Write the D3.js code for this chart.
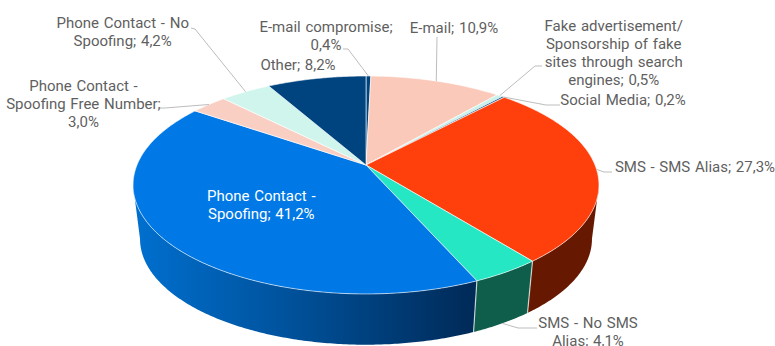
<!DOCTYPE html>
<html>
<head>
<meta charset="utf-8">
<script src="https://cdn.jsdelivr.net/npm/d3@7/dist/d3.min.js"></script>
<style>
html, body { margin: 0; padding: 0; background: #fff; overflow: hidden; }
svg { display: block; }
text { font-family: Roboto, sans-serif; font-size: 15px; word-spacing: 1px; fill: #5f5f5f; text-anchor: middle; }
</style>
</head>
<body>
<svg id="chart" width="775" height="346"></svg>
<script>
// Slices in drawing order, clockwise from twelve o'clock.
const categories = [
  "E-mail compromise", "E-mail", "Fake advertisement/ Sponsorship of fake sites through search engines",
  "Social Media", "SMS - SMS Alias", "SMS - No SMS Alias", "Phone Contact - Spoofing",
  "Phone Contact - Spoofing Free Number", "Phone Contact - No Spoofing", "Other"
];
const shares = [0.4, 10.9, 0.5, 0.2, 27.3, 4.1, 41.2, 3.0, 4.2, 8.2];
const topColors = ["#00447f", "#fbc9b9", "#c9f3ea", "#00447f", "#ff400c", "#26e7c3", "#0078e6", "#f9cfc4", "#d0f5ed", "#00447f"];
const wallColors = ["#002447", "#7a4a3a", "#2a6a5c", "#002447", "#661800", "#0f5e4b", "#0070d0", "#7a4a3a", "#2a6a5c", "#002447"];

// Label text and placement, one entry per slice.
const labelLines = [
  ["E-mail compromise;", "0,4%"], ["E-mail; 10,9%"],
  ["Fake advertisement/", "Sponsorship of fake", "sites through search", "engines; 0,5%"],
  ["Social Media; 0,2%"], ["SMS - SMS Alias; 27,3%"], ["SMS - No SMS", "Alias; 4,1%"],
  ["Phone Contact -", "Spoofing; 41,2%"], ["Phone Contact -", "Spoofing Free Number;", "3,0%"],
  ["Phone Contact - No", "Spoofing; 4,2%"], ["Other; 8,2%"]
];
const labelAnchors = [[326, 31.7], [454, 33], [613.7, 31], [623, 105], [695, 171.7], [588, 327.8], [261.3, 201], [83.5, 90.5], [122.7, 28], [298, 70]];
const leaderElbows = [[[343, 49], [348, 49]], [[437, 37], [437, 37]], [[542, 66], [535, 66]], [[560, 105], [546, 105]], [[612, 172], [604, 172]], [[537, 328], [518, 328]], null, [[160, 108], [165, 108]], [[191, 28], [195, 29]], null];

// Perspective projection of the tilted disc: the apex sits above the centre of the outline.
const apex = { x: 366, y: 165 };
const focal = { a: 229, b: 105.3, k: 0.1834 };
const outlineMidY = 186;
const wall = { shrink: 0.97, midY: 240 };

function project(angle, level) {
  const px = Math.sin(angle), py = Math.cos(angle), w = 1 + focal.k * py;
  const X = focal.a * px / w, Y = apex.y - focal.b * py / w;
  if (!level) return [apex.x + X, Y];
  return [apex.x + wall.shrink * X, wall.midY + wall.shrink * (Y - outlineMidY)];
}

function samples(a0, a1) {
  const n = Math.max(2, Math.ceil(Math.abs(a1 - a0) / 0.01));
  return d3.range(n + 1).map(i => a0 + (a1 - a0) * i / n);
}

const svg = d3.select("#chart");
const line = d3.line();
const slices = d3.pie().sort(null).startAngle(0).endAngle(2 * Math.PI).value(d => d)(shares);

// Gradient along the front wall of the largest slice.
const grad = svg.append("defs").append("linearGradient")
  .attr("id", "wallBlue").attr("gradientUnits", "userSpaceOnUse")
  .attr("x1", 133).attr("x2", 474).attr("y1", 0).attr("y2", 0);
grad.append("stop").attr("offset", 0).attr("stop-color", "#0070d0");
grad.append("stop").attr("offset", 0.45).attr("stop-color", "#00529c");
grad.append("stop").attr("offset", 1).attr("stop-color", "#002a58");

// The wall is visible between the two points where the outline is widest.
const nearFrom = Math.acos(-focal.k), nearTo = 2 * Math.PI - nearFrom;
const nearSlices = slices.filter(s => s.endAngle > nearFrom && s.startAngle < nearTo);

svg.append("g").selectAll("path")
  .data(nearSlices)
  .join("path")
  .attr("d", s => {
    const a0 = Math.max(s.startAngle, nearFrom), a1 = Math.min(s.endAngle, nearTo);
    const outer = samples(a0, a1);
    return line(outer.map(a => project(a, 0)).concat(outer.reverse().map(a => project(a, 1)))) + "Z";
  })
  .attr("fill", s => s.index === 6 ? "url(#wallBlue)" : wallColors[s.index]);

// Light seams where neighbouring slices meet on the wall.
svg.append("g").selectAll("path")
  .data(nearSlices.filter(s => s.endAngle < nearTo))
  .join("path")
  .attr("d", s => line([project(s.endAngle, 0), project(s.endAngle, 1)]))
  .attr("stroke", "#fff").attr("stroke-opacity", 0.7).attr("stroke-width", 1.2);

svg.append("g").selectAll("path")
  .data(slices)
  .join("path")
  .attr("d", s => line([[apex.x, apex.y]].concat(samples(s.startAngle, s.endAngle).map(a => project(a, 0)))) + "Z")
  .attr("fill", s => topColors[s.index])
  .attr("stroke", "#fff").attr("stroke-opacity", 0.75).attr("stroke-width", 0.8).attr("stroke-linejoin", "round");

// Leader lines run from each label's elbow to the rim at the slice's mid-angle.
svg.append("g").selectAll("path")
  .data(slices.filter(s => leaderElbows[s.index]))
  .join("path")
  .attr("d", s => {
    const mid = (s.startAngle + s.endAngle) / 2;
    const onWall = mid > nearFrom && mid < nearTo;
    return line(leaderElbows[s.index].concat([project(mid, onWall ? 1 : 0)]));
  })
  .attr("fill", "none").attr("stroke", "#bdbdbd").attr("stroke-width", 1);

const labels = svg.append("g").selectAll("text")
  .data(slices)
  .join("text")
  .attr("x", s => labelAnchors[s.index][0])
  .attr("y", s => labelAnchors[s.index][1])
  .style("fill", s => s.index === 6 ? "#fff" : null);
labels.selectAll("tspan")
  .data(s => labelLines[s.index].map((t, i) => ({ t, i, x: labelAnchors[s.index][0] })))
  .join("tspan")
  .attr("x", d => d.x)
  .attr("dy", d => d.i ? 18.1 : 0)
  .text(d => d.t);
</script>
</body>
</html>
